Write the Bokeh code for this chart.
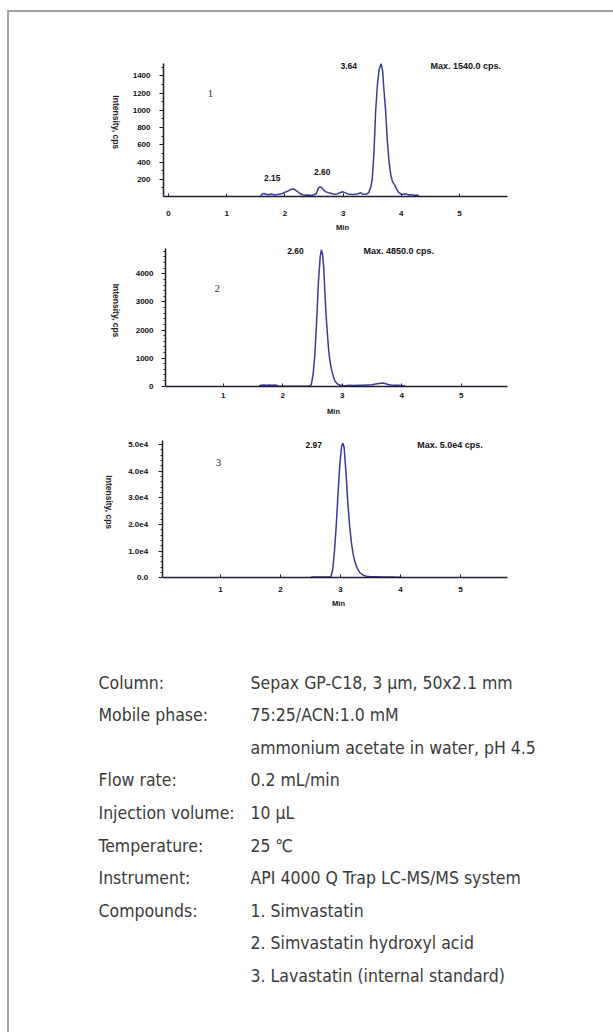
import math
from bokeh.plotting import figure
from bokeh.layouts import column
from bokeh.models import Range1d, FixedTicker
from bokeh.core.properties import value
from bokeh.embed import file_html
from bokeh.resources import INLINE

# ---------------- data ----------------
# Panel 1: Simvastatin  (time, min / intensity, cps)
t1 = [1.58, 1.61, 1.64, 1.67, 1.72, 1.77, 1.82, 1.87, 1.92, 1.96, 2.00, 2.04, 2.08, 2.12, 2.15,
      2.18, 2.22, 2.26, 2.30, 2.35, 2.40, 2.45, 2.50, 2.54, 2.57, 2.60, 2.63, 2.66, 2.70, 2.75,
      2.80, 2.85, 2.90, 2.95, 2.99, 3.03, 3.08, 3.13, 3.18, 3.23, 3.27, 3.30, 3.33, 3.37, 3.41,
      3.44, 3.48, 3.50, 3.53, 3.56, 3.59, 3.62, 3.655, 3.68, 3.70, 3.73, 3.76, 3.79, 3.82, 3.85,
      3.88, 3.91, 3.95, 3.99, 4.03, 4.08, 4.13, 4.18, 4.22, 4.27, 4.30]
i1 = [5, 30, 35, 25, 20, 28, 18, 22, 30, 35, 50, 60, 75, 85, 88,
      75, 55, 35, 20, 15, 18, 12, 20, 35, 90, 112, 105, 80, 55, 45,
      35, 25, 30, 45, 55, 45, 30, 25, 22, 28, 35, 45, 30, 25, 30,
      45, 120, 200, 500, 1000, 1300, 1480, 1540, 1450, 1250, 1000, 650, 400, 250, 170,
      140, 100, 50, 30, 25, 30, 18, 22, 15, 18, 5]

# Panel 2: Simvastatin hydroxyl acid
t2 = [1.60, 1.63, 1.68, 1.73, 1.78, 1.83, 1.88, 1.92, 2.45, 2.48, 2.51, 2.54, 2.57, 2.60, 2.63,
      2.65, 2.67, 2.69, 2.71, 2.73, 2.75, 2.77, 2.79, 2.82, 2.85, 2.88, 2.92, 2.96, 3.00, 3.05,
      3.12, 3.20, 3.28, 3.35, 3.42, 3.50, 3.56, 3.62, 3.67, 3.72, 3.77, 3.82, 3.88, 3.94, 4.00, 4.05]
i2 = [5, 35, 40, 30, 45, 38, 42, 5, 0, 60, 400, 1100, 2300, 3700, 4600,
      4850, 4700, 4200, 3300, 2500, 1900, 1350, 950, 600, 350, 180, 80, 40, 25, 20,
      30, 25, 35, 30, 45, 55, 75, 100, 110, 95, 60, 40, 35, 30, 25, 5]

# Panel 3: Lavastatin (internal standard)
t3 = [2.50, 2.52, 2.60, 2.70, 2.78, 2.84, 2.87, 2.90, 2.93, 2.96, 2.99, 3.02, 3.04, 3.06, 3.09,
      3.12, 3.15, 3.18, 3.21, 3.24, 3.28, 3.32, 3.37, 3.43, 3.50, 3.60, 3.70, 3.80, 3.90, 4.00, 4.02]
i3 = [0, 300, 320, 300, 330, 400, 3000, 10000, 20000, 32000, 43000, 49500, 50500, 49000, 40000,
      29000, 20000, 13500, 9000, 6000, 3500, 2000, 1100, 600, 400, 350, 300, 320, 280, 250, 0]

x_ticks_1 = [0, 1, 2, 3, 4, 5]
x_ticks_23 = [1, 2, 3, 4, 5]
y_ticks_1 = [200, 400, 600, 800, 1000, 1200, 1400]
y_minor_1 = [100, 300, 500, 700, 900, 1100, 1300, 1500]
y_ticks_2 = [0, 1000, 2000, 3000, 4000]
y_minor_2 = [200, 400, 600, 800, 1200, 1400, 1600, 1800, 2200, 2400, 2600, 2800,
             3200, 3400, 3600, 3800, 4200, 4400, 4600, 4800]
y_ticks_3 = [0, 10000, 20000, 30000, 40000, 50000]
y_tick_labels_3 = ["0.0", "1.0e4", "2.0e4", "3.0e4", "4.0e4", "5.0e4"]
y_minor_3 = [2000, 4000, 6000, 8000, 12000, 14000, 16000, 18000, 22000, 24000, 26000, 28000,
             32000, 34000, 36000, 38000, 42000, 44000, 46000, 48000]

peak_labels = [["2.15", "2.60", "3.64"], ["2.60"], ["2.97"]]
max_labels = ["Max. 1540.0 cps.", "Max. 4850.0 cps.", "Max. 5.0e4 cps."]
panel_numbers = ["1", "2", "3"]
y_title = "Intensity, cps"
x_title = "Min"

cond_names = ["Column:", "Mobile phase:", "", "Flow rate:", "Injection volume:", "Temperature:",
              "Instrument:", "Compounds:", "", ""]
cond_values = ["Sepax GP-C18, 3 \u03bcm, 50x2.1 mm", "75:25/ACN:1.0 mM",
               "ammonium acetate in water, pH 4.5", "0.2 mL/min", "10 \u03bcL", "25 \u2103",
               "API 4000 Q Trap LC-MS/MS system", "1. Simvastatin",
               "2. Simvastatin hydroxyl acid", "3. Lavastatin (internal standard)"]

# ---------------- layout / styling ----------------
CL, CT = 9, 12          # page position of the content's top-left corner
W = 604
TRACE = "#3a3a98"
AX = "#1c1c2c"
SANS = "Liberation Sans, Arial, sans-serif"
NARROW = "DejaVu Sans Condensed, Liberation Sans, sans-serif"


def make_panel(ct, h, xa_anchor, xb_anchor, y0_page, yv_anchor, axis_px, right_px, top_px,
               t, inten, xt, yt, ymin, labels, label_px, maxlab, max_px, num, num_px,
               ytitle_px, xtitle_px, xstand, ystand, overrides=None):
    (ta, pa), (tb, pb) = xa_anchor, xb_anchor
    sx = (pb - pa) / (tb - ta)
    va, pva = yv_anchor
    ky = (y0_page - pva) / va

    def fx(px):
        return ta + (px - pa) / sx

    def fy(py):
        return (y0_page - py) / ky

    x_start, x_end = fx(CL), fx(CL + W)
    y_start, y_end = fy(ct + h), fy(ct)

    p = figure(width=W, height=h, x_range=Range1d(x_start, x_end),
               y_range=Range1d(y_start, y_end), output_backend="svg",
               toolbar_location=None, min_border=0)
    p.outline_line_color = None
    p.grid.visible = False

    x_axis_t = fx(axis_px)
    x_right_t = fx(right_px)
    y_top_v = fy(top_px)

    xa = p.xaxis[0]
    xa.fixed_location = 0
    xa.bounds = (x_axis_t, x_right_t)
    xa.ticker = FixedTicker(ticks=xt, minor_ticks=[])
    xa.axis_line_color = AX
    xa.axis_line_width = 1.5
    xa.major_tick_in = 3
    xa.major_tick_out = 0
    xa.major_tick_line_color = AX
    xa.minor_tick_line_color = None
    xa.major_label_text_font = SANS
    xa.major_label_text_font_style = "bold"
    xa.major_label_text_font_size = "8px"
    xa.major_label_text_color = "#111111"
    xa.major_label_standoff = xstand

    ya = p.yaxis[0]
    ya.fixed_location = x_axis_t
    ya.bounds = (0, y_top_v)
    ya.ticker = FixedTicker(ticks=yt, minor_ticks=ymin)
    ya.axis_line_color = AX
    ya.axis_line_width = 1.5
    ya.major_tick_in = 0
    ya.major_tick_out = 4
    ya.minor_tick_in = 0
    ya.minor_tick_out = 2
    ya.major_tick_line_color = AX
    ya.minor_tick_line_color = AX
    ya.major_label_text_font = SANS
    ya.major_label_text_font_style = "bold"
    ya.major_label_text_font_size = "8px"
    ya.major_label_text_color = "#111111"
    ya.major_label_standoff = ystand
    if overrides:
        ya.major_label_overrides = overrides

    p.line(t, inten, line_color=TRACE, line_width=1.5)

    p.text(x=[fx(q[0]) for q in label_px], y=[fy(q[1]) for q in label_px], text=labels,
           text_font=value(SANS), text_font_style="bold", text_font_size="8.5px",
           text_align="center", text_baseline="middle", text_color="#111111")
    p.text(x=[fx(max_px[0])], y=[fy(max_px[1])], text=[maxlab],
           text_font=value(SANS), text_font_style="bold", text_font_size="9px",
           text_align="left", text_baseline="middle", text_color="#111111")
    p.text(x=[fx(num_px[0])], y=[fy(num_px[1])], text=[num],
           text_font=value("Liberation Serif"), text_font_size="11px",
           text_align="center", text_baseline="middle", text_color="#333333")
    p.text(x=[fx(ytitle_px[0])], y=[fy(ytitle_px[1])], text=[y_title], angle=-math.pi / 2,
           text_font=value(SANS), text_font_style="bold", text_font_size="8.5px",
           text_align="center", text_baseline="middle", text_color="#222222")
    p.text(x=[fx(xtitle_px[0])], y=[fy(xtitle_px[1])], text=[x_title],
           text_font=value(SANS), text_font_style="bold", text_font_size="7.5px",
           text_align="center", text_baseline="middle", text_color="#111111")
    return p


p1 = make_panel(CT, 223, (0, 168), (5, 459), 196, (1540, 63.3), 163, 507, 63,
                t1, i1, x_ticks_1, y_ticks_1, y_minor_1,
                peak_labels[0], [(271.7, 177.7), (321.7, 171.7), (348.3, 65)],
                max_labels[0], (430, 65), panel_numbers[0], (210, 92.7),
                (115, 121.7), (342, 226.7), xstand=14, ystand=9)
p2 = make_panel(235, 185, (1, 222.7), (5, 460.7), 385.7, (4000, 273.3), 165, 507, 247.7,
                t2, i2, x_ticks_23, y_ticks_2, y_minor_2,
                peak_labels[1], [(295, 250)],
                max_labels[1], (363, 250), panel_numbers[1], (216.7, 287.7),
                (115, 310), (333, 411), xstand=7, ystand=8)
p3 = make_panel(420, 195, (1, 220), (5, 460), 577.3, (50000, 444), 161.7, 507, 440,
                t3, i3, x_ticks_23, y_ticks_3, y_minor_3,
                peak_labels[2], [(313.3, 444)],
                max_labels[2], (416.7, 444), panel_numbers[2], (218, 461.7),
                (108.3, 501.7), (338, 603), xstand=9, ystand=10,
                overrides={v: s for v, s in zip(y_ticks_3, y_tick_labels_3)})

# ---------------- conditions table ----------------
TT = 615
TH = 1032 - TT
pt = figure(width=W, height=TH, x_range=Range1d(CL, CL + W), y_range=Range1d(TT + TH, TT),
            output_backend="svg", toolbar_location=None, x_axis_location=None,
            y_axis_location=None, min_border=0)
pt.outline_line_color = None
pt.grid.visible = False
row_y = [682 + 32.6 * k for k in range(len(cond_values))]
pt.text(x=[98] * len(cond_names), y=row_y, text=cond_names,
        text_font=value(NARROW), text_font_size="17.5px", text_color="#3a3a3a",
        text_align="left", text_baseline="middle")
pt.text(x=[250] * len(cond_values), y=row_y, text=cond_values,
        text_font=value(NARROW), text_font_size="17.5px", text_color="#3a3a3a",
        text_align="left", text_baseline="middle")

layout = column(p1, p2, p3, pt, spacing=0,
                styles={"border-left": "2px solid #a2a2a2", "border-top": "2px solid #a2a2a2",
                        "margin-left": "7px", "margin-top": "10px"})

open("out.html", "w").write(file_html(layout, INLINE))
